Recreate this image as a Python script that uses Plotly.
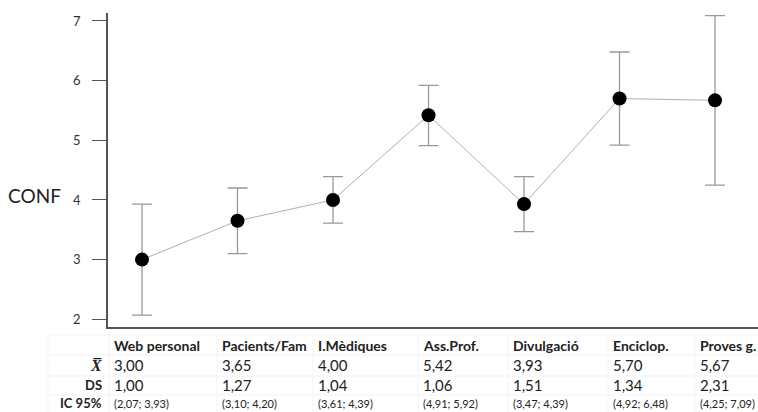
import plotly.graph_objects as go

categories = ["Web personal", "Pacients/Fam", "I.Mèdiques", "Ass.Prof.", "Divulgació", "Enciclop.", "Proves g."]
means = [3.00, 3.65, 4.00, 5.42, 3.93, 5.70, 5.67]
sds = [1.00, 1.27, 1.04, 1.06, 1.51, 1.34, 2.31]
ci_low = [2.07, 3.10, 3.61, 4.91, 3.47, 4.92, 4.25]
ci_high = [3.93, 4.20, 4.39, 5.92, 4.39, 6.48, 7.09]
y_ticks = [2, 3, 4, 5, 6, 7]

xs = list(range(len(categories)))
err_plus = [h - m for h, m in zip(ci_high, means)]
err_minus = [m - l for m, l in zip(means, ci_low)]

def fmt(v):
    return f"{v:.2f}".replace(".", ",")

FONT = "Lato, Open Sans, sans-serif"
W, H = 758, 412
ML, MR, MT, MB = 108, 0, 13, 85
PW = W - ML - MR
PH = H - MT - MB

# table layout (pixel positions of column left edges and row centers)
col_left_px = [114, 222, 318, 423, 513, 613, 700]
row_center_px = [345, 365, 385, 403]

fig = go.Figure()
fig.add_trace(go.Scatter(
    x=xs, y=means, mode="lines+markers",
    line=dict(color="#b0b0b0", width=1),
    marker=dict(color="black", size=14),
    error_y=dict(type="data", symmetric=False, array=err_plus, arrayminus=err_minus,
                 color="#999999", thickness=1.3, width=10),
    showlegend=False, hoverinfo="skip",
))

fig.update_layout(
    width=W, height=H,
    margin=dict(l=ML, r=MR, t=MT, b=MB),
    paper_bgcolor="white", plot_bgcolor="white",
    font=dict(family=FONT, color="#333333"),
    xaxis=dict(range=[-0.356, 6.45], showgrid=False, zeroline=False, showticklabels=False,
               showline=True, linecolor="#555555", linewidth=1.5, ticks=""),
    yaxis=dict(range=[1.87, 7.134], tickvals=y_ticks, showgrid=False, zeroline=False,
               showline=True, linecolor="#555555", linewidth=1.5,
               ticks="outside", ticklen=14, tickcolor="#555555", tickwidth=1.3,
               tickfont=dict(size=13, color="#333333", family=FONT),
               ticklabelstandoff=9),
)

# CONF label
fig.add_annotation(x=0, xref="paper", xanchor="right", xshift=-45, y=4.07, yref="y",
                   text="CONF", showarrow=False, font=dict(size=19, color="#222222", family=FONT))

def px2paper_x(px):
    return (px - ML) / PW

def py2paper(py):
    return (H - MB - py) / PH

# row labels
row_labels = ["<b><i>X̅</i></b>", "<b>DS</b>", "<b>IC 95%</b>"]
for py, lab in zip(row_center_px[1:], row_labels):
    if "X" in lab:
        fnt = dict(size=16, color="#222222", family="Liberation Serif")
    else:
        fnt = dict(size=13, color="#222222", family=FONT)
    fig.add_annotation(x=px2paper_x(103), xref="paper", xanchor="right", y=py2paper(py), yref="paper",
                       yanchor="middle", text=lab, showarrow=False, font=fnt, borderpad=0)

# table cells
sizes = [14, 15, 15, 11]
for i, c in enumerate(categories):
    cells = [f"<b>{c}</b>", fmt(means[i]), fmt(sds[i]), f"({fmt(ci_low[i])}; {fmt(ci_high[i])})"]
    for py, txt, s in zip(row_center_px, cells, sizes):
        fig.add_annotation(x=px2paper_x(col_left_px[i] - 2), xref="paper", xanchor="left",
                           y=py2paper(py), yref="paper", yanchor="middle", text=txt,
                           showarrow=False, font=dict(size=s, color="#222222", family=FONT))

# faint table grid
for py in [335, 355, 376, 395]:
    fig.add_shape(type="line", xref="paper", yref="paper", x0=px2paper_x(48), x1=1.0,
                  y0=py2paper(py), y1=py2paper(py), line=dict(color="#f3f3f3", width=1))
for px in [48] + [c - 5 for c in col_left_px]:
    fig.add_shape(type="line", xref="paper", yref="paper", x0=px2paper_x(px), x1=px2paper_x(px),
                  y0=py2paper(335), y1=py2paper(412), line=dict(color="#f3f3f3", width=1))

fig.write_html("out.html")
